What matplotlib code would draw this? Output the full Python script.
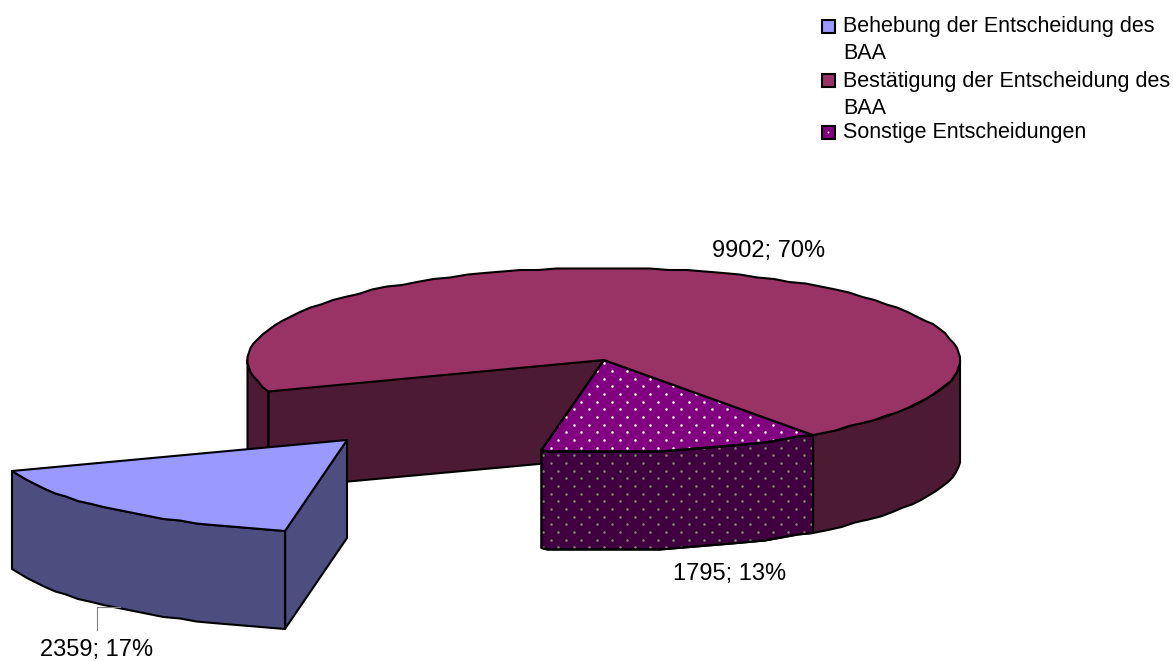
import numpy as np
import matplotlib
matplotlib.use('Agg')
import matplotlib.pyplot as plt
from matplotlib.patches import Polygon, Rectangle

plt.rcParams['font.family'] = ['Liberation Sans', 'DejaVu Sans']

labels = ['Behebung der Entscheidung des\nBAA', 'Bestätigung der Entscheidung des\nBAA', 'Sonstige Entscheidungen']
values = [2359, 9902, 1795]
top_colors = ['#9999FF', '#993366', '#800080']
side_colors = ['#4D4D80', '#4D1A33', '#400040']

# pie geometry in pixels of the picture
cx, cy = 604, 360
rx, ry = 356, 92
depth = 98
start = 100
explode = (-257, 80)
W, H = 1173, 661


def arc(t0, t1, dx=0, dy=0):
    t = np.radians(np.arange(t0, t1, 3.0).tolist() + [t1])
    # coarse rounding gives the wobbly outline of the original
    x = np.round((cx + dx + rx * np.cos(t)) / 1.5) * 1.5
    y = np.round((cy + dy + ry * np.sin(t)) / 1.5) * 1.5
    return np.column_stack([x, y])


def dot_grid(ax, patch, color):
    # 8x8 fill pattern of the original, staggered every other row
    ys = np.arange(0, H, 7.67) + 401.7 % 7.67
    xs, yy = [], []
    for i, y in enumerate(ys):
        row = np.arange(0, W, 15.33) + 596.7 % 15.33
        if round((y - 401.7) / 7.67) % 2:
            row = row + 7.67
        xs.extend(row)
        yy.extend([y] * len(row))
    pts = ax.scatter(xs, yy, s=3.4, color=color, linewidths=0, zorder=patch.get_zorder())
    pts.set_clip_path(patch)


def shape(ax, pts, color, dots=None):
    body = ax.add_patch(Polygon(pts, closed=True, facecolor=color, edgecolor='black', lw=1.5, joinstyle='round'))
    if dots:
        dot_grid(ax, body, dots)
        ax.add_patch(Polygon(pts, closed=True, fill=False, edgecolor='black', lw=1.5, joinstyle='round'))


def wall(ax, t0, t1, color, dx=0, dy=0, dots=None):
    a = arc(t0, t1, dx, dy)
    b = a[::-1] + [0, depth]
    shape(ax, np.vstack([a, b]), color, dots)


def face(ax, t, color, dx=0, dy=0):
    p = np.array([cx + dx + rx * np.cos(np.radians(t)), cy + dy + ry * np.sin(np.radians(t))])
    c = np.array([cx + dx, cy + dy])
    shape(ax, [p, c, c + [0, depth], p + [0, depth]], color)


fig = plt.figure(figsize=(W / 100, H / 100), dpi=100)
ax = fig.add_axes([0, 0, 1, 1])
ax.set_xlim(0, W)
ax.set_ylim(H, 0)
ax.axis('off')

spans = np.array(values) / sum(values) * 360
ends = start + np.cumsum(spans)
t_blue = (start, ends[0])
t_red = (ends[0], ends[1])
t_purple = (ends[1], ends[2])

# red slice: left wall, cut face, right wall, top
wall(ax, t_red[0], 180, side_colors[1])
face(ax, t_red[0], side_colors[1])
wall(ax, 360, t_red[1], side_colors[1])

# purple slice
wall(ax, t_purple[0] - 360, t_purple[1] - 360, side_colors[2], dots='#85856e')
shape(ax, np.vstack([[[cx, cy]], arc(t_purple[0] - 360, t_purple[1] - 360)]), top_colors[2], dots='#FFFFE6')
shape(ax, np.vstack([[[cx, cy]], arc(*t_red)]), top_colors[1])

# blue slice pulled out of the pie
dx, dy = explode
face(ax, t_blue[0], side_colors[0], dx, dy)
wall(ax, t_blue[0], t_blue[1], side_colors[0], dx, dy)
shape(ax, np.vstack([[[cx + dx, cy + dy]], arc(t_blue[0], t_blue[1], dx, dy)]), top_colors[0])

# data labels
total = sum(values)
label_pos = [(97, 656), (769, 257), (730, 580)]
for v, (lx, ly) in zip(values, label_pos):
    ax.text(lx, ly, f'{v}; {round(v / total * 100)}%', ha='center', va='baseline', fontsize=17, color='black')
ax.plot([97, 97, 120], [630, 607, 607], color='#808080', lw=0.8)

# legend
rows = [26, 80.5, 132]
for lab, col, y in zip(labels, top_colors, rows):
    ax.add_patch(Rectangle((821.5, y - 6.5), 13, 13, facecolor=col, edgecolor='black', lw=1.5))
    ax.text(843, y - 10, lab, ha='left', va='top', fontsize=15.5, linespacing=1.39, color='black')
ax.scatter([828], [rows[2]], s=2, color='#FFFFE6', linewidths=0, zorder=3)

fig.savefig('out.png', dpi=100)
